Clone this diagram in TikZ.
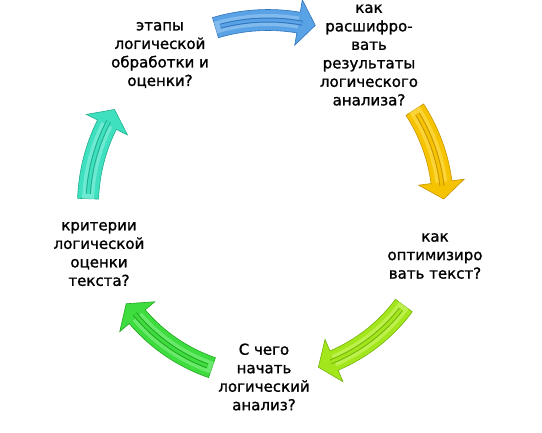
\documentclass[tikz,border=0pt]{standalone}
\usepackage{fontspec}
\setmainfont{DejaVu Sans}
\newfontfamily\lblfont{DejaVu Sans}[FakeBold=1.3]
\usetikzlibrary{calc}
\definecolor{bluemain}{HTML}{5AA2E6}
\definecolor{bluelight}{HTML}{9CCBF3}
\definecolor{bluedark}{HTML}{2F74BD}
\definecolor{yelmain}{HTML}{F6C300}
\definecolor{yellight}{HTML}{FFE25A}
\definecolor{yeldark}{HTML}{C99400}
\definecolor{limemain}{HTML}{A3E61C}
\definecolor{limelight}{HTML}{CDF76A}
\definecolor{limedark}{HTML}{74B40C}
\definecolor{grnmain}{HTML}{3EDC3E}
\definecolor{grnlight}{HTML}{86F286}
\definecolor{grndark}{HTML}{1FA81F}
\definecolor{tealmain}{HTML}{3FE0BF}
\definecolor{teallight}{HTML}{8CF2DD}
\definecolor{tealdark}{HTML}{1FAE8E}
\newcommand\cyclearrow[6]{% #1 radius, #2 start angle, #3 end angle, #4 main, #5 light, #6 dark
  \pgfmathsetmacro\arO{#1+10.5}%
  \pgfmathsetmacro\arI{#1-10.5}%
  \pgfmathsetmacro\arHO{#1+23}%
  \pgfmathsetmacro\arHI{#1-23}%
  \pgfmathsetmacro\arGs{#2-1.6}%
  \pgfmathsetmacro\arGe{#3-1.2}%
  \pgfmathsetmacro\arTip{#3-90}%
  \filldraw[fill=#4, draw=#6, line width=0.6pt, line join=miter]
    ($(C)+(#2:\arO)$) arc[start angle=#2, end angle=#3, radius=\arO]
    -- ($(C)+(#3:\arHO)$) -- ($(C)+(#3:#1)+(\arTip:17)$) -- ($(C)+(#3:\arHI)$)
    -- ($(C)+(#3:\arI)$) arc[start angle=#3, end angle=#2, radius=\arI] -- cycle;
  \draw[#5, opacity=0.6, line width=12pt]
    ($(C)+(#2:#1)$) arc[start angle=#2, end angle=#3, radius=#1];
  \draw[#6, line width=5pt]
    ($(C)+(\arGs:#1)$) arc[start angle=\arGs, end angle=\arGe, radius=#1];
  \draw[#4, line width=3pt]
    ($(C)+(\arGs:#1)$) arc[start angle=\arGs, end angle=\arGe, radius=#1];
}
\tikzset{lbl/.style={align=center, font=\lblfont\fontsize{15}{18.5}\selectfont, text=black, inner sep=0pt}}
\begin{document}
\begin{tikzpicture}[x=1pt,y=1pt]
\useasboundingbox (0,0) rectangle (542,432);
\coordinate (C) at (268,227);
\cyclearrow{185}{106.5}{80.5}{bluemain}{bluelight}{bluedark}
\cyclearrow{175}{33}{7.5}{yelmain}{yellight}{yeldark}
\cyclearrow{169}{-36.5}{-67}{limemain}{limelight}{limedark}
\cyclearrow{172}{-109}{-139.5}{grnmain}{grnlight}{grndark}
\cyclearrow{180}{178}{153.5}{tealmain}{teallight}{tealdark}
\node[lbl] (etapy) at (160,377) {этапы\\логической\\обработки и\\оценки?};
\node[lbl] (rassh) at (369,377) {как\\расшифро-\\вать\\результаты\\логического\\анализа?};
\node[lbl] (optim) at (435,176) {как\\оптимизиро\\вать текст?};
\node[lbl] (nachat) at (264,55) {С чего\\начать\\логический\\анализ?};
\node[lbl] (krit) at (99,178) {критерии\\логической\\оценки\\текста?};
\end{tikzpicture}
\end{document}
